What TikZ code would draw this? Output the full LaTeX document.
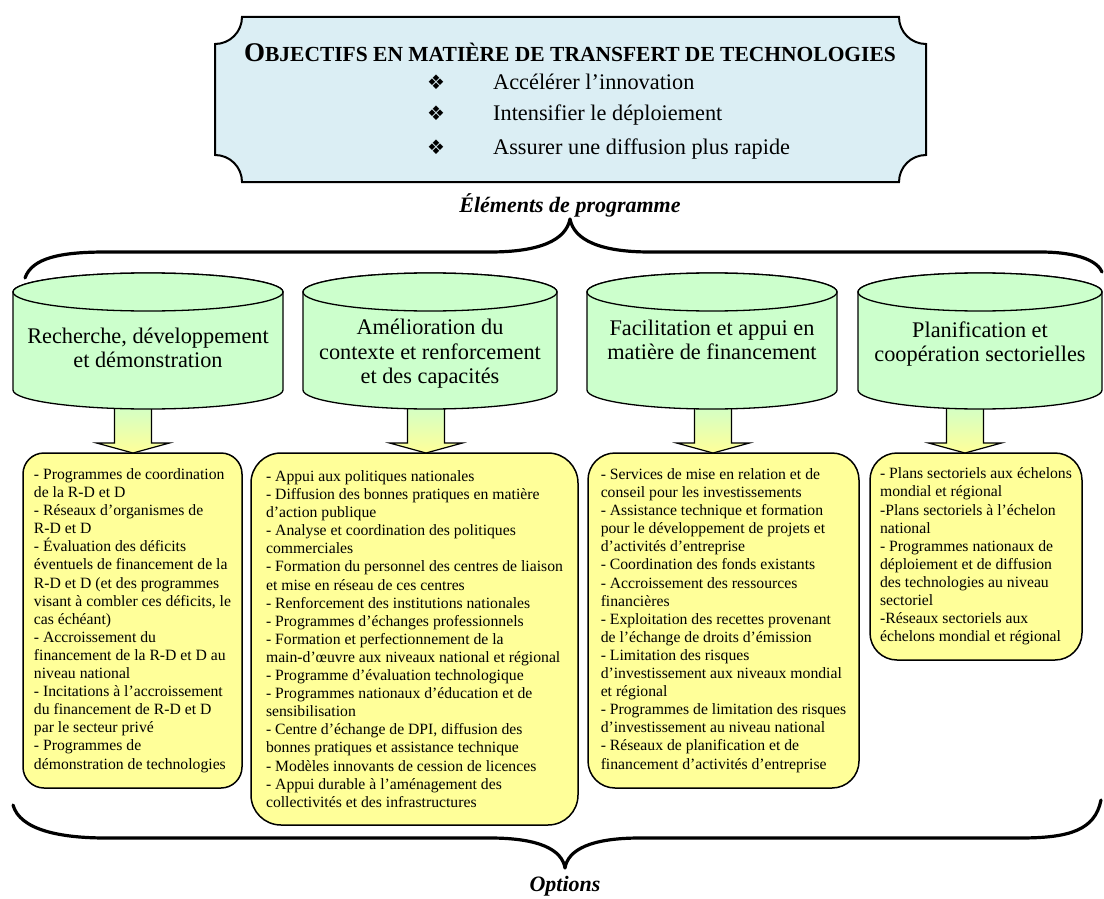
\documentclass[tikz,border=0pt]{standalone}
\usepackage{fontspec}
\setmainfont{Liberation Serif}
\newfontfamily\symfont{DejaVu Sans}
\definecolor{topfill}{RGB}{219,238,244}
\definecolor{cylfill}{RGB}{204,255,204}
\definecolor{boxfill}{RGB}{255,255,153}
\tikzset{
  cylshape/.style={draw=black, line width=1.3pt, fill=cylfill},
  cyltext/.style={align=center, font=\fontsize{22.3}{24.5}\selectfont, inner sep=0pt},
  optbox/.style={draw=black, line width=1.5pt, fill=boxfill, align=left, inner sep=0pt, font=\fontsize{15.7}{18.1}\selectfont},
  bracepath/.style={line width=3.2pt, line cap=round, line join=round},
  blockarrow/.style={draw=black, line width=1.2pt, top color=cylfill, bottom color=boxfill},
  bullettext/.style={anchor=base west, font=\fontsize{22.3}{26}\selectfont, inner sep=0pt},
  bulletmark/.style={anchor=base, font=\symfont\fontsize{20}{22}\selectfont, inner sep=0pt},
  itlabel/.style={font=\bfseries\itshape\fontsize{22}{26}\selectfont, inner sep=0pt, anchor=base},
}
\begin{document}
\begin{tikzpicture}[x=1pt,y=1pt]
\useasboundingbox (0,0) rectangle (1104,-899);
% top objectives box
\filldraw[fill=topfill, draw=black, line width=2pt]
  (242,-17) -- (899,-17) arc[start angle=180,end angle=270,radius=27pt]
  -- (926,-155) arc[start angle=90,end angle=180,radius=27pt]
  -- (242,-182) arc[start angle=0,end angle=90,radius=27pt]
  -- (215,-44) arc[start angle=270,end angle=360,radius=27pt] -- cycle;
\node[anchor=base, inner sep=0pt, font=\bfseries] (title) at (570,-62)
  {{\fontsize{27}{30}\selectfont O}{\fontsize{21.5}{30}\selectfont BJECTIFS EN MATIÈRE DE TRANSFERT DE TECHNOLOGIES}};
\node[bulletmark] (b1) at (436,-89) {❖};
\node[bulletmark] (b2) at (436,-121) {❖};
\node[bulletmark] (b3) at (436,-154) {❖};
\node[bullettext] (t1) at (493,-89) {Accélérer l’innovation};
\node[bullettext] (t2) at (493,-121) {Intensifier le déploiement};
\node[bullettext] (t3) at (493,-154) {Assurer une diffusion plus rapide};
\node[itlabel] (elem) at (570,-212) {Éléments de programme};
% option boxes
\node[optbox, rounded corners=21pt, minimum width=219pt, minimum height=335pt] (box1) at (132.5,-620.5)
 {- Programmes de coordination\\de la R-D et D\\- Réseaux d’organismes de\\R-D et D\\- Évaluation des déficits\\éventuels de financement de la\\R-D et D (et des programmes\\visant à combler ces déficits, le\\cas échéant)\\- Accroissement du\\financement de la R-D et D au\\niveau national\\- Incitations à l’accroissement\\du financement de R-D et D\\par le secteur privé\\- Programmes de\\démonstration de technologies};
\node[optbox, rounded corners=30pt, minimum width=327pt, minimum height=372pt] (box2) at (414.5,-639)
 {- Appui aux politiques nationales\\- Diffusion des bonnes pratiques en matière\\d’action publique\\- Analyse et coordination des politiques\\commerciales\\- Formation du personnel des centres de liaison\\et mise en réseau de ces centres\\- Renforcement des institutions nationales\\- Programmes d’échanges professionnels\\- Formation et perfectionnement de la\\main-d’œuvre aux niveaux national et régional\\- Programme d’évaluation technologique\\- Programmes nationaux d’éducation et de\\sensibilisation\\- Centre d’échange de DPI, diffusion des\\bonnes pratiques et assistance technique\\- Modèles innovants de cession de licences\\- Appui durable à l’aménagement des\\collectivités et des infrastructures};
\node[optbox, rounded corners=27pt, minimum width=271pt, minimum height=335pt] (box3) at (723.5,-620.5)
 {- Services de mise en relation et de\\conseil pour les investissements\\- Assistance technique et formation\\pour le développement de projets et\\d’activités d’entreprise\\- Coordination des fonds existants\\- Accroissement des ressources\\financières\\- Exploitation des recettes provenant\\de l’échange de droits d’émission\\- Limitation des risques\\d’investissement aux niveaux mondial\\et régional\\- Programmes de limitation des risques\\d’investissement au niveau national\\- Réseaux de planification et de\\financement d’activités d’entreprise};
\node[optbox, rounded corners=27pt, minimum width=212pt, minimum height=207pt] (box4) at (976,-556.5)
 {- Plans sectoriels aux échelons\\mondial et régional\\-Plans sectoriels à l’échelon\\national\\- Programmes nationaux de\\déploiement et de diffusion\\des technologies au niveau\\sectoriel\\-Réseaux sectoriels aux\\échelons mondial et régional};
% block arrows
\foreach \c in {133,426,713,965}{
  \shadedraw[blockarrow] ({\c-18.5},-400) -- ({\c+18.5},-400) -- ({\c+18.5},-443) -- ({\c+36.5},-443)
     -- (\c,-453) -- ({\c-36.5},-443) -- ({\c-18.5},-443) -- cycle;
}
% cylinders
\foreach \l/\r in {13/283, 303/557, 587/837, 858/1102}{
  \pgfmathsetmacro\rx{(\r-\l)/2}
  \pgfmathsetmacro\cx{(\r+\l)/2}
  \filldraw[cylshape] (\l,-292) -- (\l,-390) arc[start angle=180,end angle=360,x radius=\rx pt,y radius=19pt]
     -- (\r,-292) arc[start angle=0,end angle=180,x radius=\rx pt,y radius=19pt] -- cycle;
  \draw[cylshape] (\cx,-292) ellipse[x radius=\rx pt, y radius=19pt];
}
\node[cyltext] (cyl1) at (148,-348) {Recherche, développement\\et démonstration};
\node[cyltext] (cyl2) at (430,-354) {Amélioration du\\contexte et renforcement\\et des capacités};
\node[cyltext] (cyl3) at (712,-340) {Facilitation et appui en\\matière de financement};
\node[cyltext] (cyl4) at (980,-344) {Planification et\\coopération sectorielles};
% braces
\draw[bracepath] (25,-278) .. controls (32,-258) and (60,-252) .. (106,-252) -- (490,-252)
  .. controls (540,-252) and (566,-240) .. (570,-219)
  .. controls (574,-240) and (600,-252) .. (650,-252) -- (1040,-252)
  .. controls (1080,-252) and (1098,-262) .. (1102,-272);
\draw[bracepath] (13,-805) .. controls (20,-830) and (60,-838) .. (106,-838) -- (490,-838)
  .. controls (540,-838) and (562,-850) .. (565,-868)
  .. controls (568,-850) and (590,-838) .. (640,-838) -- (1020,-838)
  .. controls (1070,-838) and (1095,-830) .. (1101,-800);
\node[itlabel] (opts) at (565,-891) {Options};
\end{tikzpicture}
\end{document}
